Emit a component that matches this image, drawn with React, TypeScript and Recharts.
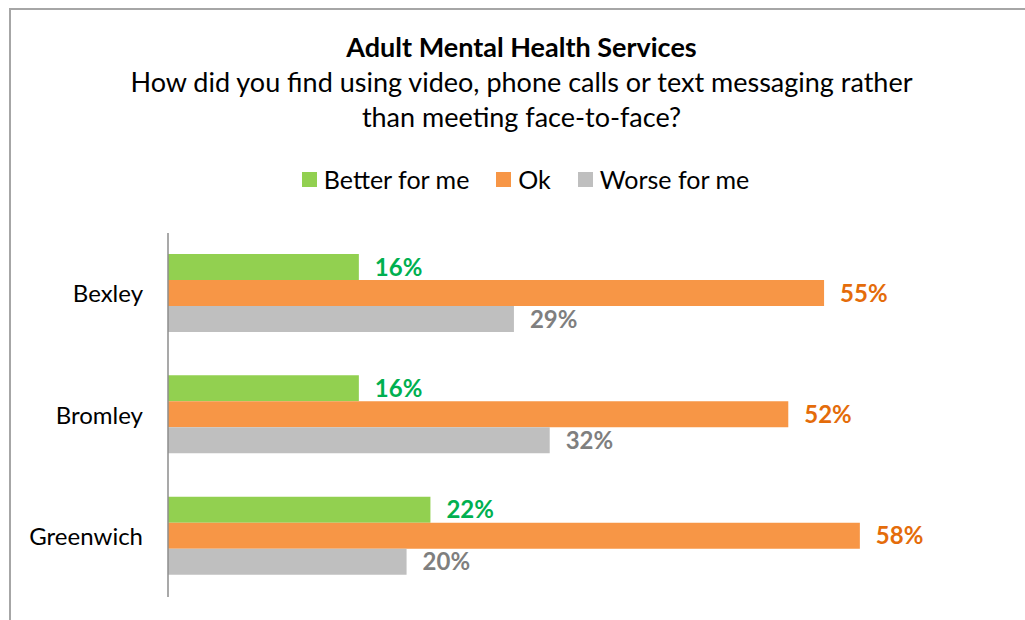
import React from 'react';
import { BarChart, Bar, XAxis, YAxis, LabelList } from 'recharts';

const categories = ['Bexley', 'Bromley', 'Greenwich'];
const betterForMe = [16, 16, 22];
const ok = [55, 52, 58];
const worseForMe = [29, 32, 20];

const seriesNames = ['Better for me', 'Ok', 'Worse for me'];
const seriesKeys = ['better', 'ok', 'worse'];
const barColors = ['#92d050', '#f79646', '#bfbfbf'];
const labelColors = ['#00b050', '#e46c0a', '#7f7f7f'];

const data = categories.map((name, i) => ({
  name,
  better: betterForMe[i],
  ok: ok[i],
  worse: worseForMe[i],
}));

const FONT = 'Lato, "Open Sans", sans-serif';

export default function App() {
  return (
    <div
      style={{
        position: 'absolute',
        left: 0,
        top: 0,
        width: 1025,
        height: 620,
        overflow: 'hidden',
        background: '#fff',
        fontFamily: FONT,
      }}
    >
      <div
        style={{
          position: 'absolute',
          left: 9,
          top: 8,
          width: 1200,
          height: 800,
          borderTop: '2px solid #a6a6a6',
          borderLeft: '2px solid #a6a6a6',
        }}
      />
      <div
        style={{
          position: 'absolute',
          left: 0,
          top: 29,
          width: 1043,
          textAlign: 'center',
          fontSize: 27,
          lineHeight: '35px',
          color: '#000',
        }}
      >
        <div style={{ fontWeight: 700 }}>Adult Mental Health Services</div>
        <div>How did you find using video, phone calls or text messaging rather</div>
        <div>than meeting face-to-face?</div>
      </div>

      <div
        style={{
          position: 'absolute',
          left: 0,
          top: 163,
          width: 1051,
          display: 'flex',
          justifyContent: 'center',
          fontSize: 25,
          lineHeight: '32px',
          color: '#000',
        }}
      >
        {seriesNames.map((s, i) => (
          <div key={s} style={{ display: 'flex', alignItems: 'center', marginRight: i < 2 ? 27 : 0 }}>
            <span style={{ width: 15, height: 15, background: barColors[i], marginRight: 7 }} />
            <span>{s}</span>
          </div>
        ))}
      </div>

      <div style={{ position: 'absolute', left: 0, top: 0 }}>
        <BarChart
          width={1025}
          height={620}
          data={data}
          layout="vertical"
          margin={{ top: 233, right: 22, bottom: 23, left: 0 }}
          barCategoryGap={21}
          barGap={0}
        >
          <XAxis type="number" domain={[0, 70]} hide />
          <YAxis
            type="category"
            dataKey="name"
            width={168}
            tickLine={false}
            tickMargin={19}
            axisLine={{ stroke: '#8c8c8c', strokeWidth: 1.5 }}
            tick={{ fontSize: 24, fill: '#000', fontFamily: FONT }}
          />
          {seriesKeys.map((k, i) => (
            <Bar key={k} dataKey={k} name={seriesNames[i]} fill={barColors[i]} isAnimationActive={false}>
              <LabelList
                dataKey={k}
                position="right"
                offset={16}
                formatter={(v: any) => `${v}%`}
                style={{ fontSize: 24, fontWeight: 700, fill: labelColors[i], fontFamily: FONT }}
              />
            </Bar>
          ))}
        </BarChart>
      </div>
    </div>
  );
}
